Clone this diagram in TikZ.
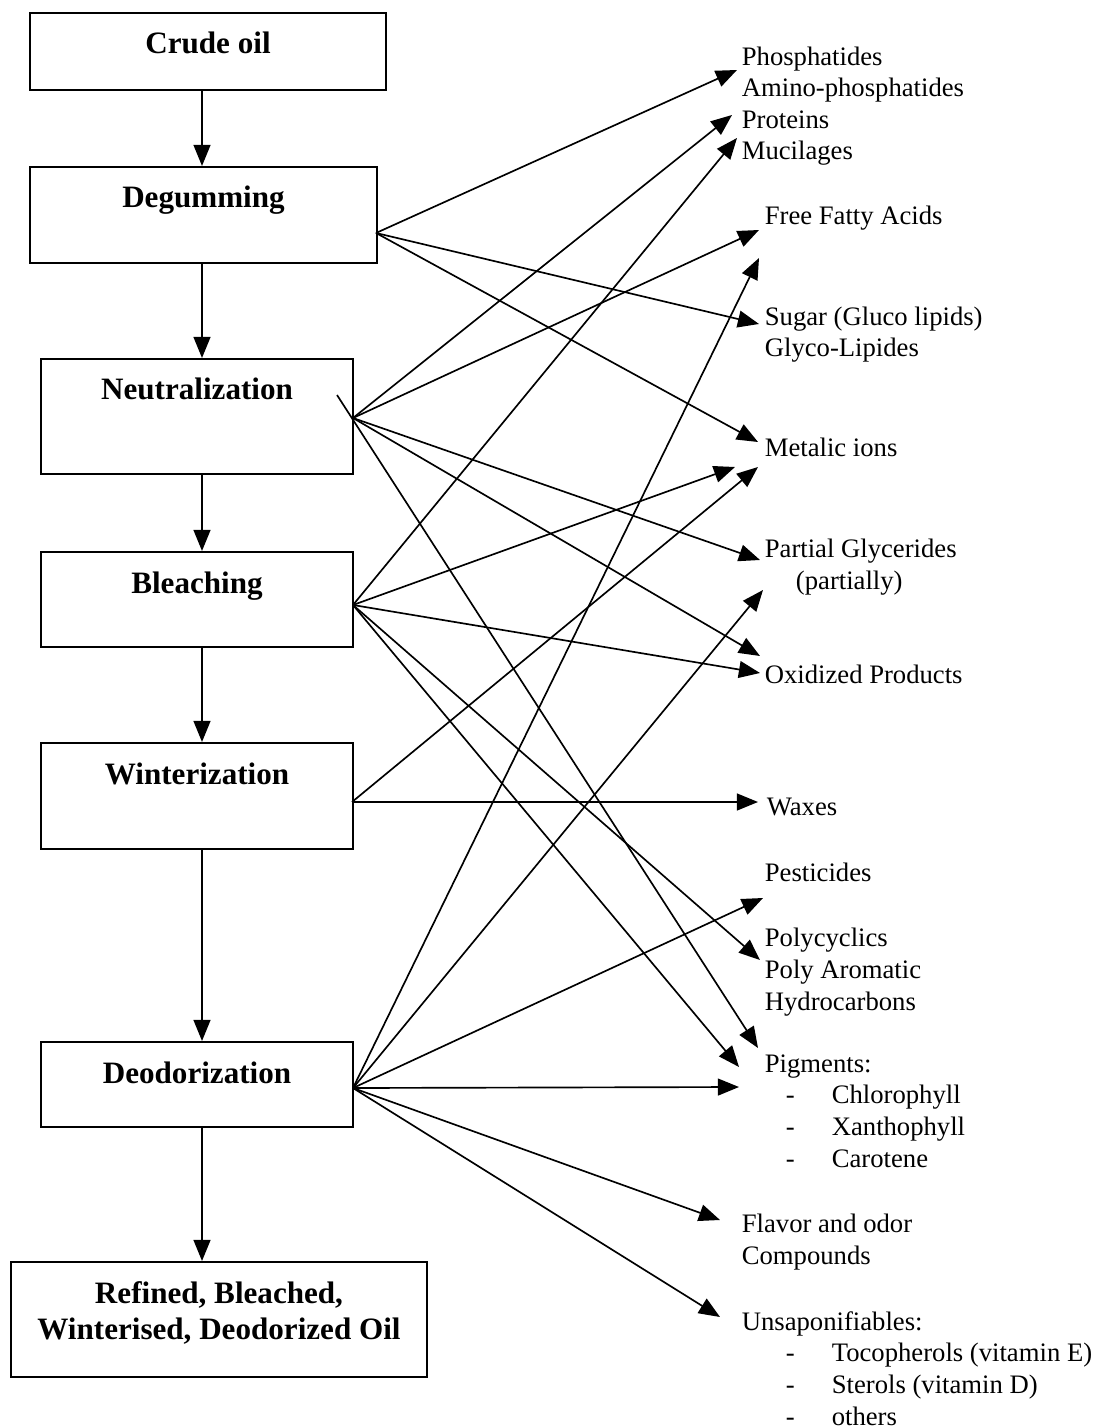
\documentclass[tikz,border=0pt]{standalone}
\usepackage{fontspec}
\setmainfont{Liberation Serif}
\usepackage{tikz}
\usetikzlibrary{arrows.meta,positioning}

\newcommand{\dashline}[2]{\hspace*{#1}\makebox[20.7pt][l]{-}#2}

\begin{document}
\begin{tikzpicture}[->,x=0.45pt,y=-0.45pt,line width=0.75pt,
	>={Triangle[length=9.5pt,width=7.6pt]},
	stage/.style={draw,line width=0.9pt,inner sep=0pt,anchor=north west},
	title/.style={font=\fontsize{14}{16.6}\selectfont\bfseries,anchor=base,align=center,inner sep=0pt},
	item/.style={font=\fontsize{12}{14.2}\selectfont,anchor=base west,align=left,inner sep=0pt}]
	\useasboundingbox (0,0) rectangle (1098,1428);
	% process steps
	\node[stage,minimum width=160.2pt,minimum height=34.65pt] (crude) at (29,12) {};
	\node[stage,minimum width=156.15pt,minimum height=43.2pt] (degum) at (29,166) {};
	\node[stage,minimum width=140.4pt,minimum height=51.75pt] (neutral) at (40,358) {};
	\node[stage,minimum width=140.4pt,minimum height=42.75pt] (bleach) at (40,551) {};
	\node[stage,minimum width=140.4pt,minimum height=47.7pt] (winter) at (40,742) {};
	\node[stage,minimum width=140.4pt,minimum height=38.25pt] (deodor) at (40,1041) {};
	\node[stage,minimum width=187.2pt,minimum height=51.75pt] (refined) at (10,1261) {};
	% (base = last line of the text)
	\node[title] (crude-t) at ([yshift=-18.9pt]crude.north) {Crude oil};
	\node[title] (degum-t) at ([yshift=-18.9pt]degum.north) {Degumming};
	\node[title] (neutral-t) at ([yshift=-18.9pt]neutral.north) {Neutralization};
	\node[title] (bleach-t) at ([yshift=-18.9pt]bleach.north) {Bleaching};
	\node[title] (winter-t) at ([yshift=-18.9pt]winter.north) {Winterization};
	\node[title] (deodor-t) at ([yshift=-18.9pt]deodor.north) {Deodorization};
	\node[title] (refined-t) at ([yshift=-35.5pt]refined.north) {Refined, Bleached,\\Winterised, Deodorized Oil};
	% removed substances
	\node[item] (phos) at (741,160) {Phosphatides\\Amino-phosphatides\\Proteins\\Mucilages};
	\node[item] (ffa) at (764,225) {Free Fatty Acids};
	\node[item] (sugar) at (764,357) {Sugar (Gluco lipids)\\Glyco-Lipides};
	\node[item] (metal) at (764,457) {Metalic ions};
	\node[item] (partial) at (764,589) {Partial Glycerides\\\hspace*{14pt}(partially)};
	\node[item] (oxid) at (764,683) {Oxidized Products};
	\node[item] (wax) at (766,815) {Waxes};
	\node[item] (pest) at (764,881) {Pesticides};
	\node[item] (poly) at (764,1010) {Polycyclics\\Poly Aromatic\\Hydrocarbons};
	\node[item] (pigm) at (764,1167) {Pigments:\\\dashline{9.45pt}{Chlorophyll}\\\dashline{9.45pt}{Xanthophyll}\\\dashline{9.45pt}{Carotene}};
	\node[item] (flav) at (741,1264) {Flavor and odor\\Compounds};
	\node[item] (unsap) at (741,1425) {Unsaponifiables:\\\dashline{19.8pt}{Tocopherols (vitamin E)}\\\dashline{19.8pt}{Sterols (vitamin D)}\\\dashline{19.8pt}{others}};
	% arrow ends
	\coordinate (spine) at (202,0);
	\coordinate (deg-out) at (376,233);
	\coordinate (neu-out) at (353,418);
	\coordinate (neu-x) at (337,395);
	\coordinate (ble-out) at (353,605);
	\coordinate (win-out) at (352,802);
	\coordinate (deo-out) at (353,1088);
	\coordinate (phos-in) at (737,70);
	\coordinate (prot-in) at (732,115);
	\coordinate (muc-in) at (737,138);
	\coordinate (ffa-in) at (759,230);
	\coordinate (ffa-in2) at (759,258);
	\coordinate (sug-in) at (759,324);
	\coordinate (met-in) at (758,442);
	\coordinate (met-in2) at (735,467);
	\coordinate (met-in3) at (758,467);
	\coordinate (par-in) at (760,560);
	\coordinate (par-in2) at (763,590);
	\coordinate (oxi-in) at (760,656);
	\coordinate (oxi-in2) at (760,673);
	\coordinate (wax-in) at (758,802);
	\coordinate (pes-in) at (763,898);
	\coordinate (pol-in) at (760,960);
	\coordinate (pig-in) at (758,1048);
	\coordinate (pig-in2) at (739,1067);
	\coordinate (pig-in3) at (739,1087);
	\coordinate (fla-in) at (720,1220);
	\coordinate (uns-in) at (720,1317);
	% main line
	\path
		(crude.south -| spine) edge (degum.north -| spine)
		(degum.south -| spine) edge (neutral.north -| spine)
		(neutral.south -| spine) edge (bleach.north -| spine)
		(bleach.south -| spine) edge (winter.north -| spine)
		(winter.south -| spine) edge (deodor.north -| spine)
		(deodor.south -| spine) edge (refined.north -| spine);
	% what each step takes out
	\path (deg-out) edge (phos-in) edge (sug-in) edge (met-in);
	\path (neu-out) edge (prot-in) edge (ffa-in) edge (par-in) edge (oxi-in);
	\path (neu-x) edge (pig-in);
	\path (ble-out) edge (muc-in) edge (met-in2) edge (oxi-in2) edge (pol-in) edge (pig-in2);
	\path (win-out) edge (met-in3) edge (wax-in);
	\path (deo-out) edge (ffa-in2) edge (par-in2) edge (pes-in) edge (pig-in3) edge (fla-in) edge (uns-in);
\end{tikzpicture}
\end{document}
